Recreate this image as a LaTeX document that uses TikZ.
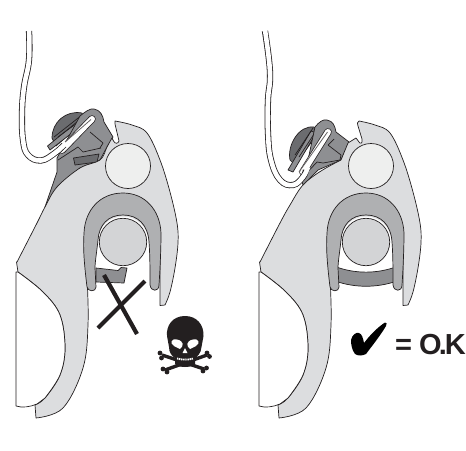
\documentclass[tikz,border=0pt]{standalone}
\usepackage{fontspec}
\setmainfont{Liberation Sans}
\definecolor{ink}{HTML}{231F20}
\definecolor{bodyg}{HTML}{DCDDDF}
\definecolor{archg}{HTML}{AFB0B2}
\definecolor{ballg}{HTML}{D3D4D6}
\definecolor{ping}{HTML}{EEEFEE}
\definecolor{leverg}{HTML}{8E8F92}
\definecolor{wheelg}{HTML}{6B6C6F}
\tikzset{
  part/.style={draw=ink,line width=0.7pt,line join=round},
  ropeout/.style={draw=ink,line width=6.2pt},
  ropein/.style={draw=white,line width=4.6pt},
}
\newcommand{\commonparts}{%
  \draw[part,fill=white] (16,272) -- (16,406) .. controls (22,408) and (30,407) .. (37,404) -- (45,398)
    -- plot[smooth,tension=.6] coordinates {(45,398) (60,375) (65,348) (60,315) (43,292) (18,272)} -- cycle;
  \draw[part,fill=ping] (128,166) circle (22.5);
  \fill[white] (123,242) circle (25.5);
  \draw[part,fill=archg] (87,287) .. controls (84,262) and (83,248) .. (84,233)
    .. controls (85,210) and (100,193) .. (123,193)
    .. controls (145,193) and (160,210) .. (161,233)
    .. controls (161,250) and (160,270) .. (159,285)
    .. controls (159,292) and (151,292) .. (150,285)
    .. controls (150,270) and (150,255) .. (149,242)
    .. controls (148,225) and (138,215) .. (123,215)
    .. controls (108,215) and (99,225) .. (98,240)
    .. controls (97,250) and (95,262) .. (95,268)
    -- (96,287) .. controls (96,292) and (88,292) .. (87,287) -- cycle;
  \draw[part,fill=ballg] (123,242) circle (23.7);
}
\begin{document}
\begin{tikzpicture}[x=1pt,y=-1pt]
\useasboundingbox (0,0) rectangle (466,450);
% ---------- left device
\draw[part,fill=wheelg] (52,138) .. controls (52,122) and (66,110) .. (82,113) -- (85,120) -- (56,146) -- cycle;
\draw[part,fill=leverg] (47.5,146) -- (83,117) -- (86,122) -- (50,150) -- cycle;
\draw[part] (54,137) -- (82,115);
\draw[part] (58,137) -- (84,118);
\draw[part,fill=leverg] (80,116) .. controls (85,112) and (90,108) .. (94,109) .. controls (100,110) and (103,115) .. (104,122) -- (113,137) -- (107,147) -- (100,160) -- (80,168) -- (57,187) -- (45,207) -- (57,172) -- (57,158) -- cycle;
\draw[part] (58,160) -- (78,147) -- (83,152) -- (101,148);
\draw[part] (90,132) -- (103,143) -- (100,148);
\draw[part,fill=wheelg] (73.5,158) -- (99,154) -- (97,162) -- (75,165) -- cycle;
\draw[part,fill=bodyg] (112,138)
  -- plot[smooth,tension=.6] coordinates {(112,138) (107,147) (100,160) (80,168) (57,187) (45,207) (37,223) (17,262)}
  -- (16.5,262) -- (18,272) -- plot[smooth,tension=.6] coordinates {(18,272) (43,292) (60,315) (65,348) (60,375) (45,398) (35,405)}
  -- (36,418) -- plot[smooth,tension=.6] coordinates {(36,418) (63,408) (83,368) (88,325) (87,275) (85,240)}
  -- (123,230) -- (160,240) -- (160,305.5) -- (165,305)
  -- plot[smooth,tension=.6] coordinates {(165,305) (170,292) (175,268) (178,243) (177,223) (170,192) (160,160) (147,133) (132,125) (115,121)}
  -- (115,124) -- (119,141) .. controls (118,144) and (115,144) .. (113.5,141) -- cycle;
\commonparts
\draw[part,fill=leverg] (96,268) -- (118,270.5) -- (121,267.5) -- (127,268) -- (124,283) -- (96,282) -- cycle;
\draw[draw=ink,line width=4.2pt] (104,275) -- (137,334);
\draw[draw=ink,line width=4.2pt] (145,281) -- (98,328);
\draw[draw=ink,line width=7.5pt,line cap=round] (62,150) -- (92,119);
\draw[draw=white,line width=6pt,line cap=round] (62,150) -- (92,119);
\draw[draw=ink!70,line width=0.8pt] (56,150) -- (91,119.5);
\draw[ropeout] (29,31) -- plot[smooth,tension=.7] coordinates {(29,31) (29,60) (24,87) (22,113) (23,140) (28,155) (41,160.5) (55,153) (64,145)};
\draw[ropein] (29,30) -- plot[smooth,tension=.7] coordinates {(29,30) (29,60) (24,87) (22,113) (23,140) (28,155) (41,160.5) (55,153) (66,143)};
% ---------- right device
\begin{scope}[shift={(243,0)}]
\draw[part,fill=wheelg] (47,160) .. controls (44,145) and (56,125) .. (71,127) -- (75,133) -- (52,165) -- cycle;
\draw[part,fill=leverg] (45,170) -- (68,131) -- (73,133) -- (50,172) -- cycle;
\draw[part] (52,155) -- (70,128);
\draw[part] (56,157) -- (73,131);
\draw[part,fill=leverg] (72,127) .. controls (76,122) and (80,119) .. (84,120) .. controls (90,121) and (92,126) .. (93,132) -- (106,142) -- (98,160) -- (75,170) -- (60,185) -- (58,178) -- (65,160) -- cycle;
\draw[part] (85,145) -- (98,155) -- (97,160) -- (80,163) -- (74,162) -- (59,178);
\draw[part] (85,145) -- (91,139);
\draw[part,fill=bodyg] (105,143)
  -- (98,160) -- plot[smooth,tension=.6] coordinates {(98,160) (78,171) (60,185) (47,205) (37,223) (17,262)}
  -- (16.5,262) -- (18,272) -- plot[smooth,tension=.6] coordinates {(18,272) (43,292) (60,315) (65,348) (60,375) (45,398) (35,405)}
  -- (36,418) -- plot[smooth,tension=.6] coordinates {(36,418) (63,408) (83,368) (88,325) (87,275) (85,240)}
  -- (123,230) -- (160,240) -- (160,305.5) -- (165,305)
  -- plot[smooth,tension=.6] coordinates {(165,305) (170,292) (175,268) (178,243) (177,223) (170,192) (160,160) (147,133) (132,125) (116,121)}
  .. controls (114,122) and (114,124) .. (115,126) -- (119,139) .. controls (120,144) and (117,144) .. (116,142) -- (113,138) -- cycle;
\draw[part,fill=leverg] (92,266.5) .. controls (112,274) and (134,274) .. (154,266.5) -- (154,281) .. controls (134,288) and (112,288) .. (92,281) -- cycle;
\commonparts
\draw[draw=ink,line width=7.5pt,line cap=round] (60,172) -- (85,132);
\draw[draw=white,line width=6pt,line cap=round] (60,172) -- (85,132);
\draw[draw=ink!70,line width=0.8pt] (56,172) -- (84.5,132);
\draw[ropeout] (22,31) -- plot[smooth,tension=.7] coordinates {(22,31) (26,60) (27,80) (25,100) (25,133) (28,160) (37,180) (50,185) (60,177) (63,170)};
\draw[ropein] (22,30) -- plot[smooth,tension=.7] coordinates {(22,30) (26,60) (27,80) (25,100) (25,133) (28,160) (37,180) (50,185) (60,177) (65,167)};
\end{scope}
% ---------- skull and crossbones
\draw[ink,line width=3.4pt] (165,370) -- (207,355);
\draw[ink,line width=3.4pt] (162,355) -- (204,369);
\fill[ink] (160,353) circle (2.4) (161.5,358) circle (2.4) (163,369) circle (2.4) (167,372) circle (2.4)
  (207,353) circle (2.4) (209.5,356.5) circle (2.4) (203,371) circle (2.4) (206.5,368) circle (2.4);
\fill[ink] (185,316) .. controls (197,316) and (204,325) .. (203.5,336) -- (201.5,347)
  .. controls (201,354) and (197,356) .. (195,359) -- (195,364) .. controls (192,368) and (178,368) .. (175,364)
  -- (175,358) .. controls (172,356) and (169,353) .. (169,347) -- (167,336)
  .. controls (166,325) and (173,316) .. (185,316) -- cycle;
\fill[white] (177,339.5) .. controls (172,338) and (169,343) .. (174,346) -- (180,349)
  .. controls (184,346) and (184,341) .. (177,339.5) -- cycle;
\fill[white] (193,339.5) .. controls (198,338) and (201,343) .. (196,346) -- (190,349)
  .. controls (186,346) and (186,341) .. (193,339.5) -- cycle;
\fill[white] (185,348) -- (182.5,353) -- (187.5,353) -- cycle;
\draw[white,line width=1.8pt,dash pattern=on 1.4pt off 0.7pt] (177,358.5) .. controls (182,360) and (188,360) .. (193.5,358.5);
% ---------- check mark and label
\fill[black] (351,340) .. controls (352,335) and (356,332) .. (359,333)
  .. controls (362,334) and (363,338) .. (364,343)
  .. controls (370,335) and (378,327) .. (385,322.5)
  .. controls (387,322) and (387,324) .. (386,326)
  .. controls (380,336) and (372,346) .. (366,354)
  .. controls (362,356) and (358,356) .. (355,354)
  .. controls (352,350) and (351,345) .. (351,340) -- cycle;
\node[anchor=base west,inner sep=0pt,text=ink,font=\bfseries\fontsize{29}{30}\selectfont] (oklabel) at (395,354) {=\kern-1pt\ O\kern-3pt.\kern-2pt K};
\end{tikzpicture}
\end{document}
